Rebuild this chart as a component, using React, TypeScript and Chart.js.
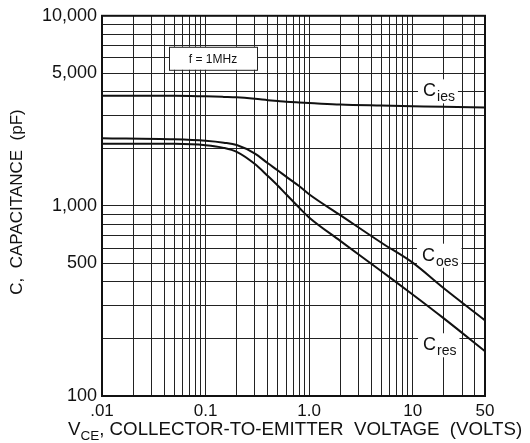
import React, { useEffect, useRef } from 'react';
import { Chart, registerables } from 'chart.js';

Chart.register(...registerables);

// ---- data ----
const vce = [0.01, 0.05, 0.1, 0.15, 0.2, 0.3, 0.4, 0.5, 0.6, 0.8, 1, 2, 5, 10, 20, 50];
const cies = [3800, 3800, 3770, 3745, 3725, 3660, 3600, 3560, 3530, 3500, 3480, 3410, 3370, 3345, 3320, 3295];
const coes = [2270, 2240, 2200, 2150, 2090, 1884, 1675, 1535, 1426, 1272, 1151, 894, 640, 503, 369, 250];
const cres = [2125, 2120, 2085, 2020, 1925, 1660, 1436, 1277, 1151, 980, 869, 655, 453, 342, 256, 172];

const seriesMain = ['C', 'C', 'C'];
const seriesSub = ['ies', 'oes', 'res'];

const xTickValues = [0.01, 0.1, 1, 10, 50];
const xTickLabels = ['.01', '0.1', '1.0', '10', '50'];
const yTickValues = [100, 500, 1000, 5000, 10000];
const yTickLabels = ['100', '500', '1,000', '5,000', '10,000'];

const xMin = 0.01;
const xMax = 50;
const yMin = 100;
const yMax = 10000;

const noteText = 'f = 1MHz';
const yTitle = 'C,  CAPACITANCE  (pF)';
const xTitleMain = 'V';
const xTitleSub = 'CE';
const xTitleRest = ', COLLECTOR-TO-EMITTER  VOLTAGE  (VOLTS)';

const FONT = '"Liberation Sans", Arial, Helvetica, sans-serif';

function logGrid(min: number, max: number): number[] {
  const out: number[] = [];
  const e0 = Math.floor(Math.log10(min));
  const e1 = Math.ceil(Math.log10(max));
  for (let e = e0; e <= e1; e++) {
    for (let m = 1; m <= 9; m++) {
      const v = Number((m * Math.pow(10, e)).toPrecision(6));
      if (v >= min * 0.9999 && v <= max * 1.0001) out.push(v);
    }
  }
  return out;
}

function labelFor(values: number[], labels: string[], v: number): string {
  const i = values.findIndex((t) => Math.abs(t - v) / t < 1e-6);
  return i >= 0 ? labels[i] : '';
}

// positions of in-plot curve labels (data coordinates of "C" baseline-left)
const curveLabelX = [12.6, 12.3, 12.6];
const curveLabelY = [3770, 515, 174];

const annotate = {
  id: 'annotate',
  beforeDatasetsDraw(chart: any) {
    const { ctx, chartArea, scales } = chart;
    const xs = scales.x;
    const ys = scales.y;
    ctx.save();
    // frequency note box
    const bx = chartArea.left + 67;
    const by = chartArea.top + 31;
    const bw = 88;
    const bh = 23;
    ctx.fillStyle = '#fff';
    ctx.fillRect(bx, by, bw, bh);
    ctx.strokeStyle = '#222';
    ctx.lineWidth = 1;
    ctx.strokeRect(bx + 0.5, by + 0.5, bw, bh);
    ctx.fillStyle = '#111';
    ctx.font = `12px ${FONT}`;
    ctx.textAlign = 'center';
    ctx.textBaseline = 'middle';
    ctx.fillText(noteText, bx + bw / 2, by + bh / 2 + 1);

    // curve labels
    ctx.textAlign = 'left';
    ctx.textBaseline = 'alphabetic';
    for (let i = 0; i < seriesMain.length; i++) {
      const px = xs.getPixelForValue(curveLabelX[i]);
      const py = ys.getPixelForValue(curveLabelY[i]);
      ctx.font = `18px ${FONT}`;
      const wMain = ctx.measureText(seriesMain[i]).width;
      ctx.font = `14px ${FONT}`;
      const wSub = ctx.measureText(seriesSub[i]).width;
      ctx.fillStyle = '#fff';
      ctx.fillRect(px - 5, py - 17, wMain + wSub + 9, 24);
      ctx.fillStyle = '#111';
      ctx.font = `18px ${FONT}`;
      ctx.fillText(seriesMain[i], px, py);
      ctx.font = `14px ${FONT}`;
      ctx.fillText(seriesSub[i], px + wMain + 1, py + 5);
    }
    ctx.restore();
  },
  afterDraw(chart: any) {
    const { ctx, chartArea } = chart;
    ctx.save();
    // frame
    ctx.strokeStyle = '#111';
    ctx.lineWidth = 2;
    ctx.strokeRect(chartArea.left, chartArea.top, chartArea.right - chartArea.left, chartArea.bottom - chartArea.top);

    ctx.fillStyle = '#111';
    // y title
    ctx.save();
    ctx.translate(17, 202);
    ctx.rotate(-Math.PI / 2);
    ctx.font = `17px ${FONT}`;
    ctx.textAlign = 'center';
    ctx.textBaseline = 'middle';
    ctx.fillText(yTitle, 0, 0);
    ctx.restore();

    // x title with subscript
    ctx.textAlign = 'left';
    ctx.textBaseline = 'alphabetic';
    let tx = 68;
    const ty = 435;
    ctx.font = `18.7px ${FONT}`;
    ctx.fillText(xTitleMain, tx, ty);
    tx += ctx.measureText(xTitleMain).width;
    ctx.font = `13.5px ${FONT}`;
    ctx.fillText(xTitleSub, tx, ty + 5);
    tx += ctx.measureText(xTitleSub).width;
    ctx.font = `18.7px ${FONT}`;
    ctx.fillText(xTitleRest, tx, ty);
    ctx.restore();
  },
};

export default function App() {
  const ref = useRef<HTMLCanvasElement | null>(null);

  useEffect(() => {
    const canvas = ref.current;
    if (!canvas) return;
    const mk = (vals: number[]) => vce.map((v, i) => ({ x: v, y: vals[i] }));
    const ds = (vals: number[], label: string) => ({
      label,
      data: mk(vals),
      borderColor: '#111',
      borderWidth: 2,
      pointRadius: 0,
      fill: false,
      cubicInterpolationMode: 'monotone' as const,
    });
    const xGrid = logGrid(xMin, xMax);
    const yGrid = logGrid(yMin, yMax);

    const chart = new Chart(canvas, {
      type: 'line',
      data: {
        datasets: [
          ds(cies, 'Cies'),
          ds(coes, 'Coes'),
          ds(cres, 'Cres'),
        ],
      },
      options: {
        responsive: false,
        animation: false,
        events: [],
        layout: { padding: { left: 0, top: 14, right: 45, bottom: 0 } },
        plugins: {
          legend: { display: false },
          tooltip: { enabled: false },
          title: { display: false },
        },
        scales: {
          x: {
            type: 'logarithmic',
            min: xMin,
            max: xMax,
            afterBuildTicks: (s: any) => {
              s.ticks = xGrid.map((v) => ({ value: v }));
            },
            afterFit: (s: any) => {
              s.height = 47;
            },
            grid: { color: '#222', lineWidth: 1, drawTicks: false },
            border: { display: false },
            ticks: {
              autoSkip: false,
              maxRotation: 0,
              minRotation: 0,
              padding: 5,
              color: '#111',
              font: { family: FONT, size: 17 },
              callback: (v: any) => labelFor(xTickValues, xTickLabels, Number(v)),
            },
          },
          y: {
            type: 'logarithmic',
            min: yMin,
            max: yMax,
            afterBuildTicks: (s: any) => {
              s.ticks = yGrid.map((v) => ({ value: v }));
            },
            afterFit: (s: any) => {
              s.width = 102;
            },
            grid: { color: '#222', lineWidth: 1, drawTicks: false },
            border: { display: false },
            ticks: {
              autoSkip: false,
              padding: 5,
              color: '#111',
              font: { family: FONT, size: 18 },
              callback: (v: any) => labelFor(yTickValues, yTickLabels, Number(v)),
            },
          },
        },
      },
      plugins: [annotate],
    });
    return () => chart.destroy();
  }, []);

  return (
    <div style={{ position: 'absolute', left: 0, top: 0, width: 530, height: 443, background: '#fff' }}>
      <canvas ref={ref} width={530} height={443} style={{ display: 'block' }} />
    </div>
  );
}
